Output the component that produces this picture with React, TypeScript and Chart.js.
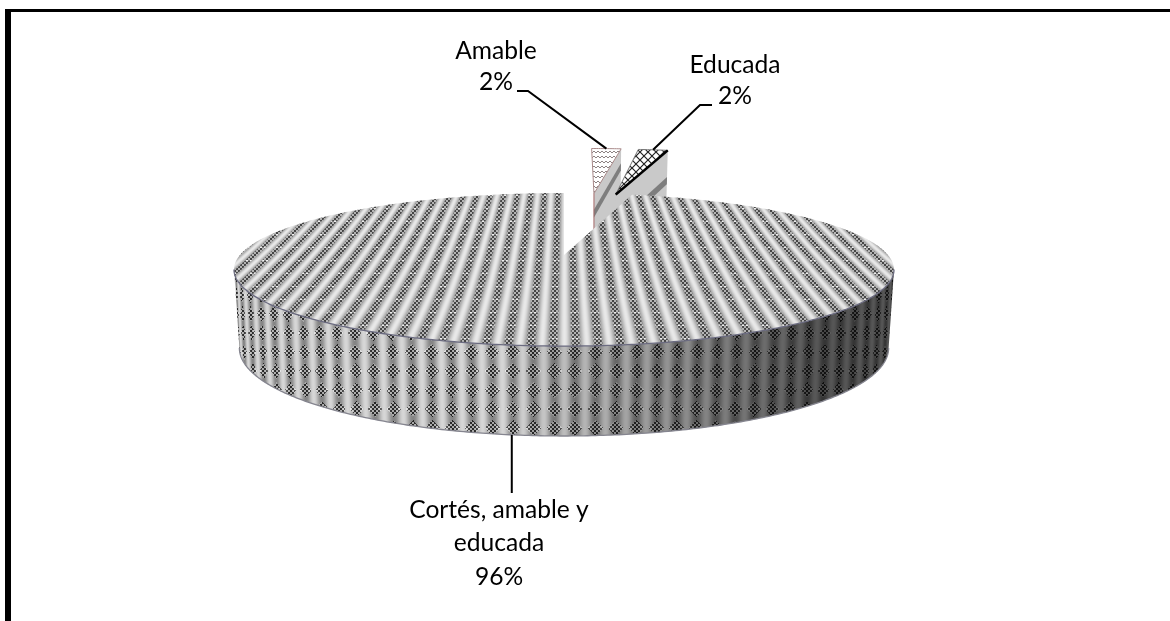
import React, { useEffect, useRef } from "react";
import { Chart, registerables } from "chart.js";

Chart.register(...registerables);

const categories = ["Amable", "Educada", "Cortés, amable y educada"];
const values = [2, 2, 96];
const labelLines = [["Amable", "2%"], ["Educada", "2%"], ["Cortés, amable y", "educada", "96%"]];

const WIDTH = 1170;
const HEIGHT = 621;
const PIE_RADIUS = 200;
const EXPLODE = 198;
const SCREEN_SHIFT = [13, 1, 0];

// Perspective projection of the pie's unit disc: top face and base plane.
const VANISH = 0.19;
const CENTER_X = 564;
const TOP_PLANE = { R: 324, c: 255, a: 73.8 };
const BASE_PLANE = { R: 318.7, c: 331.3, a: 84.8 };

type Plane = typeof TOP_PLANE;
type Pt = [number, number];

const project = (p: Plane, u: number, v: number, shift = 0): Pt => {
  const w = 1 + VANISH * v;
  return [CENTER_X + shift + (p.R * u) / w, p.c - (p.a * v) / w];
};

const clamp8 = (n: number) => Math.max(0, Math.min(255, n));

function makeTexture(shade: (x: number, y: number) => number) {
  const c = document.createElement("canvas");
  c.width = WIDTH;
  c.height = HEIGHT;
  const g = c.getContext("2d")!;
  const img = g.createImageData(WIDTH, HEIGHT);
  for (let y = 140; y < 450; y++) {
    for (let x = 220; x < 910; x++) {
      const i = (y * WIDTH + x) * 4;
      const s = clamp8(shade(x, y));
      img.data[i] = s;
      img.data[i + 1] = s;
      img.data[i + 2] = s;
      img.data[i + 3] = 255;
    }
  }
  g.putImageData(img, 0, 0);
  return c;
}

// Stripes run along constant plane u, leaning towards a point above the pie.
const topShade = (x: number, y: number) => {
  const dy = y - TOP_PLANE.c;
  const v = -dy / (TOP_PLANE.a + VANISH * dy);
  const w = 1 + 1.35 * VANISH * v;
  const phase = ((x - CENTER_X) * w) / 16.8;
  const c = Math.cos(2 * Math.PI * phase);
  const light = (c + 1) / 2;
  let g = 140 + 92 * Math.pow(light, 1.4);
  const mask = Math.max(0, Math.min(1, -c * 1.6 - 0.1));
  if (mask > 0) {
    const odd = ((x >> 1) + (y >> 1)) % 2 === 0;
    g += mask * (odd ? -72 : 38);
    if (y % 13 === 0) g += mask * 60;
  }
  return g;
};

const sideShade = (x: number, y: number) => {
  const depth = Math.max(0, Math.min(1, (y - 270) / 166));
  const xn = Math.max(-1, Math.min(1, (x - 564) / (330 - 7 * depth)));
  const phase = ((0.5 * Math.asin(xn) + 0.5 * xn) * 330) / 21;
  const frac = phase - Math.floor(phase);
  const c = Math.cos(2 * Math.PI * phase);
  let g = 132 + 82 * ((c + 1) / 2);
  const across = Math.abs(frac - 0.5) * 21;
  const rowPos = ((y % 19) + 19) % 19;
  const along = Math.abs(rowPos - 9.5);
  if (across + along < 8) {
    g += ((x >> 1) + (y >> 1)) % 2 === 0 ? -95 : 35;
  }
  const fall = Math.max(0, Math.min(1, (x - 500) / 320));
  return g * (1 - 0.6 * fall);
};

function tile(w: number, h: number, draw: (g: CanvasRenderingContext2D) => void) {
  const c = document.createElement("canvas");
  c.width = w;
  c.height = h;
  const g = c.getContext("2d")!;
  g.fillStyle = "#ffffff";
  g.fillRect(0, 0, w, h);
  draw(g);
  return c;
}

const zigzagTile = () =>
  tile(8, 5, (g) => {
    g.strokeStyle = "#8c8282";
    g.lineWidth = 1;
    g.beginPath();
    g.moveTo(0, 3);
    g.lineTo(2, 1);
    g.lineTo(4, 3);
    g.lineTo(6, 1);
    g.lineTo(8, 3);
    g.stroke();
  });

const hatchTile = () =>
  tile(8, 8, (g) => {
    g.strokeStyle = "#222222";
    g.lineWidth = 1.2;
    g.beginPath();
    g.moveTo(-1, -1);
    g.lineTo(9, 9);
    g.moveTo(9, -1);
    g.lineTo(-1, 9);
    g.stroke();
  });

const tracePath = (ctx: CanvasRenderingContext2D, pts: Pt[]) => {
  ctx.beginPath();
  pts.forEach((p, i) => (i ? ctx.lineTo(p[0], p[1]) : ctx.moveTo(p[0], p[1])));
  ctx.closePath();
};

const strokeLine = (ctx: CanvasRenderingContext2D, pts: Pt[]) => {
  ctx.beginPath();
  pts.forEach((p, i) => (i ? ctx.lineTo(p[0], p[1]) : ctx.moveTo(p[0], p[1])));
  ctx.stroke();
};

const mix = (a: Pt, b: Pt, t: number): Pt => [a[0] + (b[0] - a[0]) * t, a[1] + (b[1] - a[1]) * t];

// Plane coordinates of a point of an arc element, offset included.
const planePoint = (el: any, theta: number, r: number): [number, number] => {
  const mid = (el.startAngle + el.endAngle) / 2;
  const off = el.options.offset || 0;
  const R = el.outerRadius;
  return [(Math.cos(mid) * off + r * R * Math.cos(theta)) / R, -(Math.sin(mid) * off + r * R * Math.sin(theta)) / R];
};

const rimAngles = (from: number, to: number) => {
  const n = Math.max(2, Math.ceil(Math.abs(to - from) / 0.01));
  return Array.from({ length: n + 1 }, (_, i) => from + ((to - from) * i) / n);
};

const pie3d = {
  id: "pie3d",
  beforeDraw(chart: any) {
    const { ctx } = chart;
    ctx.save();
    ctx.fillStyle = "#000000";
    ctx.fillRect(5, 9, WIDTH - 5, 3);
    ctx.fillRect(5, 9, 6, HEIGHT - 9);
    ctx.restore();
  },
  beforeDatasetsDraw(chart: any) {
    const { ctx } = chart;
    const arcs = chart.getDatasetMeta(0).data;
    const store = chart.$textures || (chart.$textures = {
      top: makeTexture(topShade),
      side: makeTexture(sideShade),
      zigzag: zigzagTile(),
      hatch: hatchTile(),
    });

    const topFace = (el: any, shift: number): Pt[] => {
      const [au, av] = planePoint(el, 0, 0);
      const rim = rimAngles(el.startAngle, el.endAngle).map((t) => {
        const [u, v] = planePoint(el, t, 1);
        return project(TOP_PLANE, u, v, shift);
      });
      return [project(TOP_PLANE, au, av, shift), ...rim];
    };

    // The two small slices stand behind the main one: their cut wall, then the top.
    [0, 1].forEach((i) => {
      const el = arcs[i];
      const shift = SCREEN_SHIFT[i];
      const [au, av] = planePoint(el, 0, 0);
      const [ru, rv] = planePoint(el, el.endAngle, 1);
      const a0 = project(TOP_PLANE, au, av, shift);
      const r0 = project(TOP_PLANE, ru, rv, shift);
      const a1 = project(BASE_PLANE, au, av, shift);
      const r1 = project(BASE_PLANE, ru, rv, shift);
      ctx.save();
      tracePath(ctx, [a0, r0, r1, a1]);
      ctx.fillStyle = "#c9c9c9";
      ctx.fill();
      const [f0, f1] = i === 0 ? [0.24, 0.36] : [0.44, 0.56];
      tracePath(ctx, [mix(a0, a1, f0), mix(r0, r1, f0), mix(r0, r1, f1), mix(a0, a1, f1)]);
      ctx.fillStyle = "#7e7e7e";
      ctx.fill();
      ctx.restore();

      const face = topFace(el, shift);
      ctx.save();
      tracePath(ctx, face);
      ctx.fillStyle = ctx.createPattern(i === 0 ? store.zigzag : store.hatch, "repeat");
      ctx.fill();
      ctx.lineWidth = 1;
      if (i === 0) {
        ctx.strokeStyle = "#a98a8a";
        ctx.stroke();
        ctx.beginPath();
        ctx.moveTo(a0[0], a0[1]);
        ctx.lineTo(a0[0], a1[1]);
        ctx.strokeStyle = "#a86a6a";
        ctx.stroke();
      } else {
        ctx.strokeStyle = "#777777";
        ctx.stroke();
        ctx.strokeStyle = "#000000";
        ctx.lineWidth = 2.5;
        ctx.beginPath();
        ctx.moveTo(a0[0], a0[1]);
        ctx.lineTo(r0[0], r0[1]);
        ctx.stroke();
      }
      ctx.restore();
    });

    // Main slice: outer wall of the front half, then its top face.
    const main = arcs[2];
    const frontStart = -Math.PI / 2 + Math.acos(-VANISH);
    const frontEnd = -Math.PI / 2 + 2 * Math.PI - Math.acos(-VANISH);
    const fronts = rimAngles(frontStart, frontEnd);
    const topRim = fronts.map((t) => {
      const [u, v] = planePoint(main, t, 1);
      return project(TOP_PLANE, u, v);
    });
    const baseRim = fronts.map((t) => {
      const [u, v] = planePoint(main, t, 1);
      return project(BASE_PLANE, u, v);
    });
    ctx.save();
    tracePath(ctx, [...topRim, ...baseRim.slice().reverse()]);
    ctx.clip();
    ctx.filter = "blur(0.6px)";
    ctx.drawImage(store.side, 0, 0);
    ctx.restore();

    ctx.save();
    tracePath(ctx, topFace(main, 0));
    ctx.clip();
    ctx.filter = "blur(0.6px)";
    ctx.drawImage(store.top, 0, 0);
    ctx.restore();

    ctx.save();
    ctx.strokeStyle = "#6b6b80";
    ctx.lineWidth = 1.3;
    strokeLine(ctx, topRim);
    ctx.strokeStyle = "#85858f";
    strokeLine(ctx, baseRim);
    ctx.restore();

    // Labels and their leader lines, anchored on each slice's rim.
    const mids = arcs.map((el: any) => (el.startAngle + el.endAngle) / 2);
    const anchor = (i: number, plane: Plane): Pt => {
      const [u, v] = planePoint(arcs[i], mids[i], 1);
      return project(plane, u, v, SCREEN_SHIFT[i]);
    };
    ctx.save();
    ctx.strokeStyle = "#000000";
    ctx.lineWidth = 2;
    strokeLine(ctx, [[517, 91], [528, 91], anchor(0, TOP_PLANE)]);
    strokeLine(ctx, [[712, 105], [700, 105], anchor(1, TOP_PLANE)]);
    const low = anchor(2, BASE_PLANE);
    strokeLine(ctx, [[low[0] - 3, low[1]], [low[0] - 3, 493]]);

    ctx.fillStyle = "#000000";
    ctx.font = '24.6px Lato, "Open Sans", sans-serif';
    ctx.textAlign = "center";
    ctx.textBaseline = "middle";
    const blocks: [number, number][] = [[496, 51], [735, 65], [499, 510]];
    labelLines.forEach((lines, i) => {
      lines.forEach((line, j) => {
        const [x, y] = blocks[i];
        ctx.fillText(line, x, y + j * (i === 2 ? 33.5 : 31));
      });
    });
    ctx.restore();
    return false;
  },
};

export default function App() {
  const ref = useRef<HTMLCanvasElement>(null);
  useEffect(() => {
    const chart = new Chart(ref.current!, {
      type: "pie",
      data: {
        labels: categories,
        datasets: [{ data: values, offset: [EXPLODE, EXPLODE, 0], radius: PIE_RADIUS, borderWidth: 0 } as any],
      },
      options: {
        animation: false,
        responsive: false,
        devicePixelRatio: 1,
        rotation: 0,
        plugins: { legend: { display: false }, tooltip: { enabled: false } },
      },
      plugins: [pie3d as any],
    });
    return () => chart.destroy();
  }, []);
  return (
    <canvas
      ref={ref}
      width={WIDTH}
      height={HEIGHT}
      style={{ position: "fixed", left: 0, top: 0, width: WIDTH, height: HEIGHT, background: "#ffffff" }}
    />
  );
}
